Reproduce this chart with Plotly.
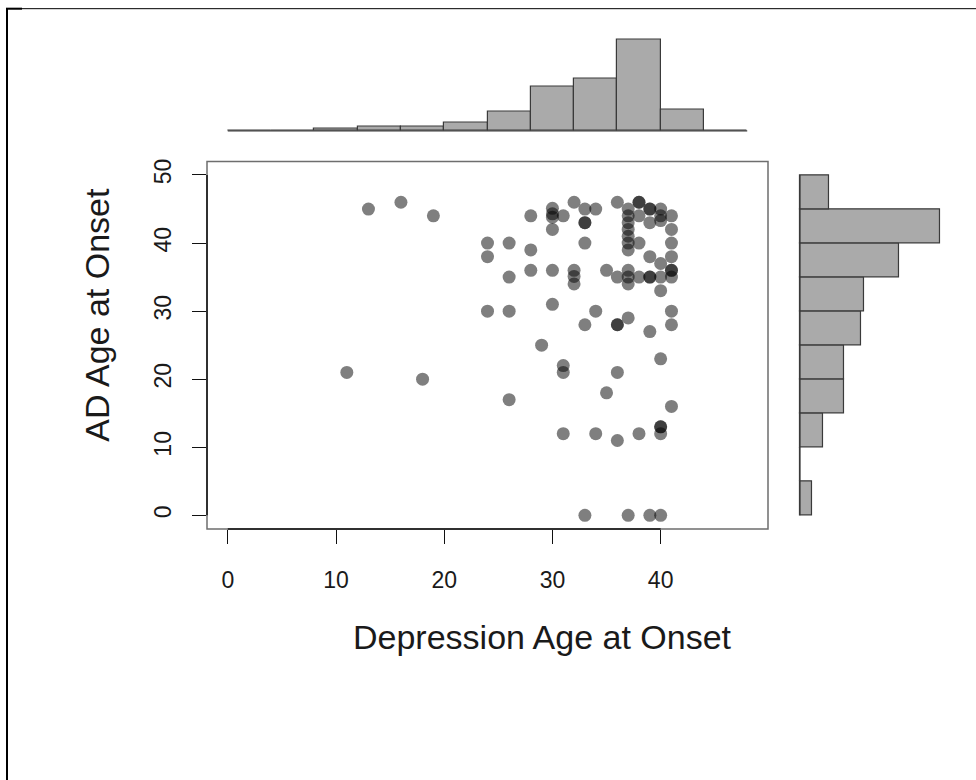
import plotly.graph_objects as go

# ---- data -------------------------------------------------------------
dep_onset = [
    13, 16, 19, 11, 18,
    24, 24, 24,
    26, 26, 26, 26,
    28, 28, 28,
    29,
    30, 30, 30, 30, 30, 30,
    31, 31, 31, 31,
    32, 32, 32, 32,
    33, 33, 33, 33, 33, 33,
    34, 34, 34,
    35, 35,
    36, 36, 36, 36, 36, 36,
    37, 37, 37, 37, 37, 37, 37, 37, 37, 37, 37, 37,
    38, 38, 38, 38, 38, 38,
    39, 39, 39, 39, 39, 39, 39, 39,
    40, 40, 40, 40, 40, 40, 40, 40, 40, 40, 40,
    41, 41, 41, 41, 41, 41, 41, 41, 41, 41,
]
ad_onset = [
    45, 46, 44, 21, 20,
    40, 38, 30,
    40, 35, 30, 17,
    44, 39, 36,
    25,
    45.1, 44.3, 43.8, 42, 36, 31,
    44, 22, 21, 12,
    46, 36, 35.1, 34,
    45, 43, 43, 40, 28, 0,
    45, 30, 12,
    36, 18,
    46, 35, 28, 28, 21, 11,
    45, 44, 43, 42, 41, 40, 39, 36, 35, 34, 29, 0,
    46, 46, 44, 40, 35, 12,
    45, 45, 43, 38, 35, 35, 27, 0,
    45, 44, 43.3, 37, 35, 33, 23, 13, 13, 12, 0,
    44, 42, 40, 38, 36, 36, 35, 30, 28, 16,
]

# marginal histogram of depression onset (bins of 4 years)
dep_edges = [0, 4, 8, 12, 16, 20, 24, 28, 32, 36, 40, 44, 48]
dep_counts = [0, 0, 1, 2, 2, 4, 10, 23, 27, 47, 11, 0]

# marginal histogram of AD onset (bins of 5 years)
ad_edges = [0, 5, 10, 15, 20, 25, 30, 35, 40, 45, 50]
ad_counts = [4, 0, 8, 15, 15, 21, 22, 34, 48, 10]

x_ticks = [0, 10, 20, 30, 40]
y_ticks = [0, 10, 20, 30, 40, 50]

x_title = "Depression Age at Onset"
y_title = "AD Age at Onset"

# ---- page geometry (pixels) ------------------------------------------
W, H = 976, 780
FONT = "Liberation Sans, Arial, Helvetica, sans-serif"


def fx(px):
    return px / W


def fy(px):
    return 1 - px / H


main_left, main_right, main_top, main_bottom = 207, 768, 159, 528
top_base, top_peak = 128.3, 36.7
right_base, right_peak = 800, 940

top_unit = (top_base - top_peak) / max(dep_counts)
right_unit = (right_peak - right_base) / max(ad_counts)

bar_fill = "#aaaaaa"
bar_edge = "#3a3a3a"

fig = go.Figure()

# scatter of the two onset ages
fig.add_trace(go.Scatter(
    x=dep_onset, y=ad_onset, mode="markers",
    marker=dict(size=13, color="rgba(0,0,0,0.5)", line=dict(width=0)),
    xaxis="x", yaxis="y", hoverinfo="x+y",
))

# top marginal histogram
dep_mid = [(a + b) / 2 for a, b in zip(dep_edges[:-1], dep_edges[1:])]
dep_w = [b - a for a, b in zip(dep_edges[:-1], dep_edges[1:])]
fig.add_trace(go.Bar(
    x=dep_mid, y=dep_counts, width=dep_w,
    marker=dict(color=bar_fill, line=dict(color=bar_edge, width=1.2)),
    xaxis="x", yaxis="y2",
))
fig.add_trace(go.Scatter(
    x=[dep_edges[0], dep_edges[-1]], y=[0, 0], mode="lines",
    line=dict(color=bar_edge, width=1.2), xaxis="x", yaxis="y2",
    hoverinfo="skip",
))

# right marginal histogram
ad_mid = [(a + b) / 2 for a, b in zip(ad_edges[:-1], ad_edges[1:])]
ad_w = [b - a for a, b in zip(ad_edges[:-1], ad_edges[1:])]
fig.add_trace(go.Bar(
    y=ad_mid, x=ad_counts, width=ad_w, orientation="h",
    marker=dict(color=bar_fill, line=dict(color=bar_edge, width=1.2)),
    xaxis="x3", yaxis="y",
))
fig.add_trace(go.Scatter(
    x=[0, 0], y=[ad_edges[0], ad_edges[-1]], mode="lines",
    line=dict(color=bar_edge, width=1.2), xaxis="x3", yaxis="y",
    hoverinfo="skip",
))

tickfont = dict(family=FONT, size=23, color="#1a1a1a")

# x range padded by 4% on each side of 0..48, y by 4% of 0..50
xr = [dep_edges[0] - 0.04 * (dep_edges[-1] - dep_edges[0]),
      dep_edges[-1] + 0.04 * (dep_edges[-1] - dep_edges[0])]
yr = [y_ticks[0] - 0.04 * (y_ticks[-1] - y_ticks[0]),
      y_ticks[-1] + 0.04 * (y_ticks[-1] - y_ticks[0])]

top_lo, top_hi = -1, max(dep_counts) + 1
right_lo, right_hi = -1, max(ad_counts) + 1

fig.update_layout(
    width=W, height=H, autosize=False,
    margin=dict(l=0, r=0, t=0, b=0, pad=0),
    paper_bgcolor="white", plot_bgcolor="white",
    showlegend=False, bargap=0,
    xaxis=dict(
        domain=[fx(main_left), fx(main_right)], range=xr, anchor="y",
        tickmode="array", tickvals=x_ticks, ticks="outside", ticklen=14,
        tickwidth=1, tickcolor="#111", tickfont=tickfont,
        ticklabelstandoff=16,
        showgrid=False, zeroline=False, showline=False,
    ),
    yaxis=dict(
        domain=[fy(main_bottom), fy(main_top)], range=yr, anchor="x",
        tickmode="array", tickvals=y_ticks, ticks="outside", ticklen=14,
        tickwidth=1, tickcolor="#111", tickfont=tickfont, tickangle=-90,
        ticklabelstandoff=12,
        showgrid=False, zeroline=False, showline=False,
    ),
    yaxis2=dict(
        domain=[fy(top_base + (0 - top_lo) * top_unit),
                fy(top_base - top_hi * top_unit)],
        range=[top_lo, top_hi], anchor="x", visible=False,
    ),
    xaxis3=dict(
        domain=[fx(right_base + right_lo * right_unit),
                fx(right_base + right_hi * right_unit)],
        range=[right_lo, right_hi], anchor="y", visible=False,
    ),
)

shapes = [
    # plot box
    dict(type="rect", xref="x domain", yref="y domain", x0=0, x1=1, y0=0, y1=1,
         line=dict(color="#6e6e6e", width=1.5), fillcolor="rgba(0,0,0,0)"),
    # axis lines spanning the tick range
    dict(type="line", xref="x", yref="y domain", x0=x_ticks[0], x1=x_ticks[-1],
         y0=0, y1=0, line=dict(color="#111", width=1.5)),
    dict(type="line", xref="x domain", yref="y", x0=0, x1=0,
         y0=y_ticks[0], y1=y_ticks[-1], line=dict(color="#111", width=1.5)),
    # page frame
    dict(type="line", xref="paper", yref="paper", x0=fx(6), x1=1,
         y0=fy(5.7), y1=fy(5.7), line=dict(color="black", width=1)),
    dict(type="line", xref="paper", yref="paper", x0=fx(6), x1=fx(22),
         y0=fy(5.7), y1=fy(5.7), line=dict(color="black", width=2)),
    dict(type="line", xref="paper", yref="paper", x0=fx(7), x1=fx(7),
         y0=0, y1=fy(5), line=dict(color="black", width=2)),
]
fig.update_layout(shapes=shapes)

fig.add_annotation(
    text=x_title, xref="paper", yref="paper", x=fx(542), y=fy(636),
    xanchor="center", yanchor="middle", showarrow=False,
    font=dict(family=FONT, size=34, color="#1a1a1a"),
)
fig.add_annotation(
    text=y_title, xref="paper", yref="paper", x=fx(97), y=fy(313),
    xanchor="center", yanchor="middle", showarrow=False, textangle=-90,
    font=dict(family=FONT, size=34, color="#1a1a1a"),
)

fig.write_html("out.html", config={"displayModeBar": False})
